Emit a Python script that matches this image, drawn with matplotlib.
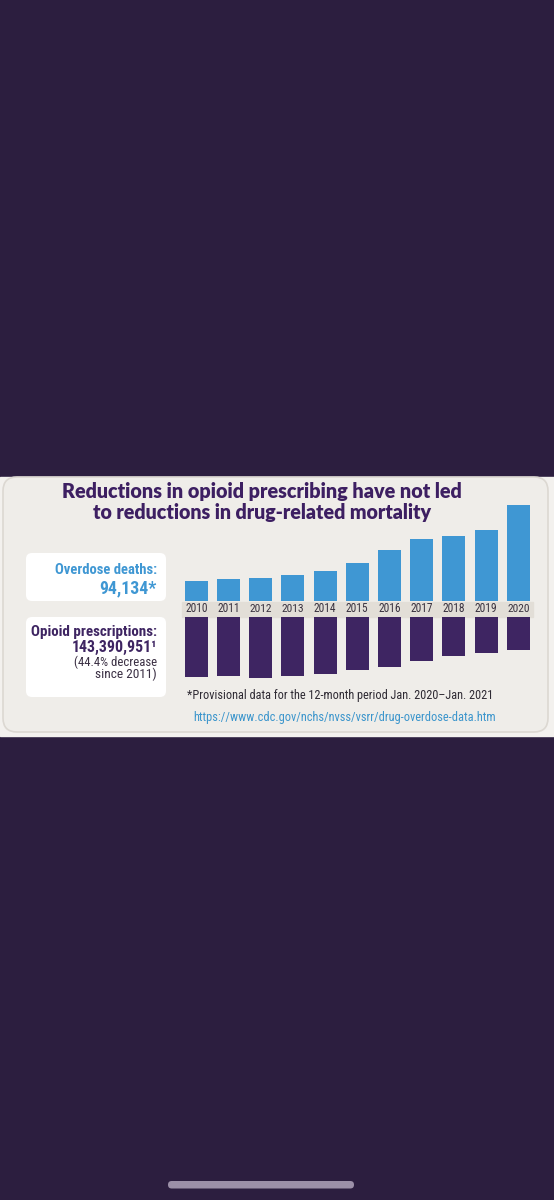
import matplotlib
matplotlib.use('Agg')
import matplotlib.pyplot as plt
from matplotlib import font_manager
from matplotlib.patches import FancyBboxPatch, Rectangle

# bar lengths (the chart has no value axis)
years = ['2010', '2011', '2012', '2013', '2014', '2015',
         '2016', '2017', '2018', '2019', '2020']
deaths_bar = [20, 22, 22.7, 25.3, 30, 37.3, 51, 62, 65, 70.3, 95.7]
rx_bar = [60, 59.3, 61.7, 59.3, 57.3, 53.3, 50.7, 44.7, 39.3, 36, 33.7]

title_lines = ['Reductions in opioid prescribing have not led',
               'to reductions in drug-related mortality']
deaths_label = ['Overdose deaths:', '94,134*']
rx_label = ['Opioid prescriptions:', '143,390,951\u00b9']
rx_note = ['(44.4% decrease', 'since 2011)']
footnote = '*Provisional data for the 12-month period Jan. 2020\u2013Jan. 2021'
url = 'https://www.cdc.gov/nchs/nvss/vsrr/drug-overdose-data.htm'

BG = '#2c1e3f'
PANEL = '#efede9'
BLUE = '#3f97d3'
PURPLE = '#3e2562'
TITLE = '#3d1f62'

# look for some condensed sans face, the original uses a condensed Myriad
fonts = font_manager.fontManager.ttflist
names = {f.name for f in fonts}
narrow, stretch = 'DejaVu Sans', 'normal'
for pref in ['Liberation Sans Narrow', 'Roboto Condensed', 'Noto Sans Condensed',
             'Open Sans Condensed', 'Noto Sans', 'Open Sans', 'DejaVu Sans']:
    hits = [f for f in fonts if f.name == pref and
            ('Narrow' in f.name or 'Condensed' in f.name or
             str(f.stretch) in ('condensed', 'semi-condensed', '75', '87'))]
    if hits:
        narrow, stretch = pref, hits[0].stretch
        break
title_font = 'Lato' if 'Lato' in names else 'DejaVu Sans'

W, H = 554, 1200
fig = plt.figure(figsize=(W / 100, H / 100), dpi=100)
fig.patch.set_facecolor(BG)
bg = fig.add_axes([0, 0, 1, 1])
bg.set_xlim(0, W)
bg.set_ylim(H, 0)
bg.axis('off')


def px_axes(x0, y0, x1, y1):
    return fig.add_axes([x0 / W, 1 - y1 / H, (x1 - x0) / W, (y1 - y0) / H])


def fit(t, width):
    r = fig.canvas.get_renderer()
    bb = t.get_window_extent(r)
    t.set_fontsize(t.get_fontsize() * width / bb.width)


def ntext(x, y, s, width, **kw):
    t = bg.text(x, y, s, va='baseline', family=narrow, fontstretch=stretch,
                zorder=3, **kw)
    fit(t, width)
    return t


# panel
bg.add_patch(Rectangle((0, 476.7), W, 259.3, color='#f3f1ee', zorder=0))
bg.add_patch(FancyBboxPatch((3, 477), 545, 255, boxstyle='round,pad=0,rounding_size=14',
                            fc=PANEL, ec='#dcd8d2', lw=1.2, zorder=1))

# left boxes
for y0, h in [(553, 48), (617, 80)]:
    bg.add_patch(FancyBboxPatch((26, y0), 140, h, boxstyle='round,pad=0,rounding_size=6',
                                fc='white', ec='none', zorder=2))

# year band
bg.add_patch(Rectangle((182, 601.5), 351, 15, color='#e2ded7', zorder=2))

# title
for line, y, w in zip(title_lines, [498, 519.5], [400, 340]):
    t = bg.text(262, y, line, ha='center', va='baseline', fontsize=13,
                fontweight='heavy', color=TITLE, family=title_font, zorder=3)
    fit(t, w)

# left texts
ntext(157, 573.5, deaths_label[0], 103, ha='right', fontsize=10, fontweight='bold', color=BLUE)
ntext(157, 593.5, deaths_label[1], 58, ha='right', fontsize=10, fontweight='bold', color=BLUE)
ntext(157, 636, rx_label[0], 127, ha='right', fontsize=10, fontweight='bold', color=PURPLE)
ntext(157, 652, rx_label[1], 86, ha='right', fontsize=10, fontweight='bold', color=PURPLE)
ntext(157, 666.5, rx_note[0], 84, ha='right', fontsize=9, color='#3b3044')
ntext(157, 678, rx_note[1], 62, ha='right', fontsize=9, color='#3b3044')

# footnote
ntext(187, 698.5, footnote, 306, ha='left', fontsize=9, color='#2e2a33')
ntext(193, 720.5, url, 303, ha='left', fontsize=9, color='#3b95cc')

# home indicator
bg.add_patch(FancyBboxPatch((168, 1181), 186, 7.5, boxstyle='round,pad=0,rounding_size=3.7',
                            fc='#9c90a8', ec='none'))

x = list(range(len(years)))

# overdose deaths bars
ax1 = px_axes(180.2, 500, 534.4, 600.7)
ax1.bar(x, deaths_bar, width=0.72, color=BLUE)
ax1.set_xlim(-0.5, 10.5)
ax1.set_ylim(0, 100.7)
ax1.axis('off')

# prescriptions bars, hanging down
ax2 = px_axes(180.2, 616.7, 534.4, 680)
ax2.bar(x, rx_bar, width=0.72, color=PURPLE)
ax2.set_xlim(-0.5, 10.5)
ax2.set_ylim(63.3, 0)
ax2.axis('off')

for i, yr in enumerate(years):
    t = ax1.text(i, -8.3, yr, ha='center', va='center', fontsize=8,
                 color='#3a3340', family=narrow, fontstretch=stretch, clip_on=False)
    fit(t, 23)

fig.savefig('out.png', dpi=100, facecolor=BG)
